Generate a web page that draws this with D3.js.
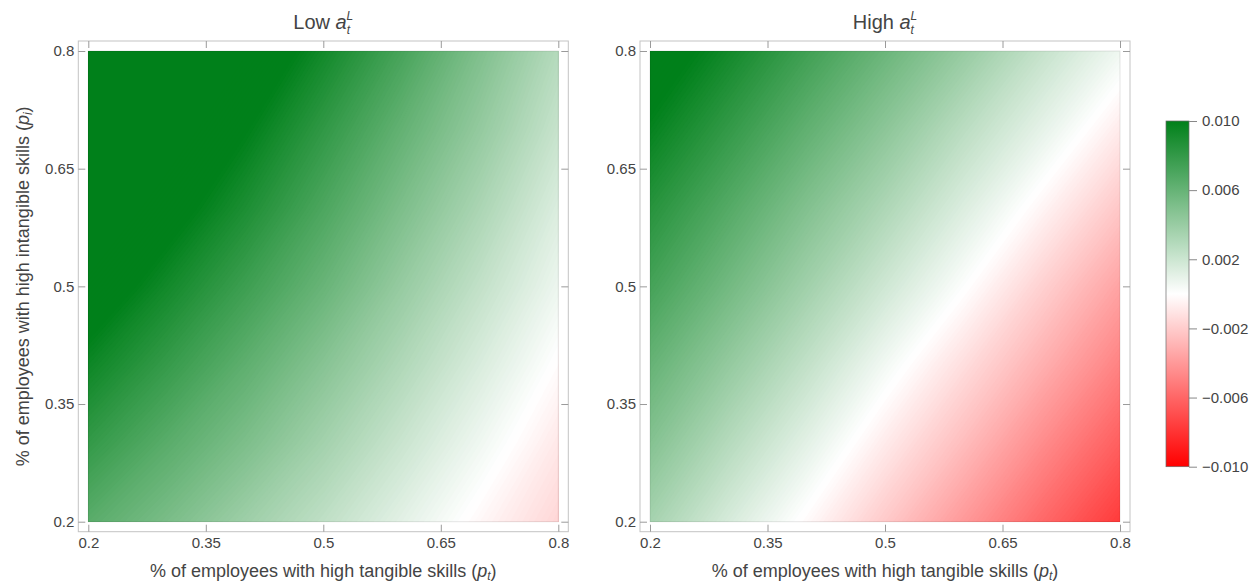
<!DOCTYPE html>
<html>
<head>
<meta charset="utf-8">
<script src="https://cdn.jsdelivr.net/npm/d3@7"></script>
<style>
  html, body { margin: 0; padding: 0; background: #fff; }
  svg { display: block; font-family: "Liberation Sans", Arial, sans-serif; }
</style>
</head>
<body>
<svg id="chart" width="1251" height="584"></svg>
<script>
// Sample positions of the surface: p_t along x, p_i along y
const ptGrid = [0.2, 0.3, 0.4, 0.5, 0.6, 0.7, 0.8];
const piGrid = [0.2, 0.3, 0.4, 0.5, 0.6, 0.7, 0.8];

// Effect values, one row per p_i level (0.2 at the bottom up to 0.8), columns follow ptGrid
const lowValues = [
  [0.0065, 0.0052, 0.0038, 0.0025, 0.0011, -0.0003, -0.0016],
  [0.0080, 0.0065, 0.0051, 0.0036, 0.0021,  0.0006, -0.0009],
  [0.0095, 0.0079, 0.0063, 0.0047, 0.0031,  0.0015, -0.0001],
  [0.0111, 0.0093, 0.0076, 0.0059, 0.0041,  0.0024,  0.0007],
  [0.0126, 0.0107, 0.0089, 0.0070, 0.0051,  0.0033,  0.0014],
  [0.0141, 0.0121, 0.0101, 0.0081, 0.0061,  0.0042,  0.0022],
  [0.0156, 0.0135, 0.0114, 0.0093, 0.0072,  0.0050,  0.0029]
];
const highValues = [
  [0.0035, 0.0016, -0.0002, -0.0021, -0.0040, -0.0059, -0.0077],
  [0.0048, 0.0029,  0.0011, -0.0008, -0.0026, -0.0045, -0.0063],
  [0.0060, 0.0042,  0.0024,  0.0005, -0.0013, -0.0031, -0.0049],
  [0.0073, 0.0055,  0.0037,  0.0019,  0.0001, -0.0018, -0.0036],
  [0.0085, 0.0067,  0.0049,  0.0032,  0.0014, -0.0004, -0.0022],
  [0.0098, 0.0080,  0.0062,  0.0045,  0.0027,  0.0010, -0.0008],
  [0.0110, 0.0093,  0.0075,  0.0058,  0.0041,  0.0023,  0.0006]
];

const panelNames = ["Low", "High"];
const axisTicks = [0.2, 0.35, 0.5, 0.65, 0.8];
const axisTickLabels = ["0.2", "0.35", "0.5", "0.65", "0.8"];
const colorTicks = [-0.01, -0.006, -0.002, 0.002, 0.006, 0.01];
const colorTickLabels = ["\u22120.010", "\u22120.006", "\u22120.002", "0.002", "0.006", "0.010"];

// ---- layout ----
const svg = d3.select("#chart");
const textColor = "#444";
const panelLeft = [88.3, 650];
const panelWidth = 470;
const plotTop = 51, plotBottom = 521.7;
const pad = 10;            // gap between the data area and the frame
const tickLen = 7;

const color = d3.scaleLinear()
  .domain([-0.01, 0, 0.01])
  .range(["#ff0000", "#ffffff", "#00801a"])
  .clamp(true);

const bandStep = 0.0001;
const thresholds = d3.range(-0.0112, 0.0114, bandStep);

const defs = svg.append("defs");

function styleAxis(g, fontSize) {
  g.select(".domain").remove();
  g.selectAll(".tick line").attr("stroke", "#9a9a9a");
  g.selectAll(".tick text").attr("fill", textColor).attr("font-size", fontSize)
    .attr("font-family", "Liberation Sans, Arial, sans-serif");
}

[lowValues, highValues].forEach((values, k) => {
  const x0 = panelLeft[k], x1 = x0 + panelWidth;
  const x = d3.scaleLinear().domain([0.2, 0.8]).range([x0, x1]);
  const y = d3.scaleLinear().domain([0.2, 0.8]).range([plotBottom, plotTop]);
  const g = svg.append("g");

  // clip the surface to the data rectangle
  const clipId = "clip" + k;
  defs.append("clipPath").attr("id", clipId)
    .append("rect").attr("x", x0).attr("y", plotTop)
    .attr("width", x1 - x0).attr("height", plotBottom - plotTop);

  // filled iso-bands of the surface
  const n = ptGrid.length, m = piGrid.length;
  const dxs = ptGrid[1] - ptGrid[0], dys = piGrid[1] - piGrid[0];
  const proj = d3.geoTransform({
    point(px, py) {
      this.stream.point(x(ptGrid[0] + (px - 0.5) * dxs), y(piGrid[0] + (py - 0.5) * dys));
    }
  });
  const path = d3.geoPath(proj);
  const bands = d3.contours().size([n, m]).thresholds(thresholds)(values.flat());
  g.append("g").attr("clip-path", `url(#${clipId})`)
    .selectAll("path").data(bands).join("path")
    .attr("d", path)
    .attr("fill", d => color(d.value + bandStep / 2));

  // faint edge of the density image
  g.append("rect").attr("x", x0).attr("y", plotTop)
    .attr("width", x1 - x0).attr("height", plotBottom - plotTop)
    .attr("fill", "none").attr("stroke", "rgba(0,0,0,0.10)").attr("stroke-width", 1);

  // frame
  const fx0 = x0 - pad, fx1 = x1 + pad, fy0 = plotTop - pad, fy1 = plotBottom + pad;
  g.append("rect").attr("x", fx0).attr("y", fy0)
    .attr("width", fx1 - fx0).attr("height", fy1 - fy0)
    .attr("fill", "none").attr("stroke", "#c4c4c4").attr("stroke-width", 1);

  const fmt = (d, i) => axisTickLabels[i];
  g.append("g").attr("transform", `translate(0,${fy1})`)
    .call(d3.axisBottom(x).tickValues(axisTicks).tickFormat(fmt)
      .tickSize(-tickLen).tickSizeOuter(0).tickPadding(6))
    .call(a => styleAxis(a, 15));
  g.append("g").attr("transform", `translate(0,${fy0})`)
    .call(d3.axisTop(x).tickValues(axisTicks).tickFormat("")
      .tickSize(-tickLen).tickSizeOuter(0))
    .call(a => styleAxis(a, 15));
  g.append("g").attr("transform", `translate(${fx0},0)`)
    .call(d3.axisLeft(y).tickValues(axisTicks).tickFormat(fmt)
      .tickSize(-tickLen).tickSizeOuter(0).tickPadding(4))
    .call(a => styleAxis(a, 15));
  g.append("g").attr("transform", `translate(${fx1},0)`)
    .call(d3.axisRight(y).tickValues(axisTicks).tickFormat("")
      .tickSize(-tickLen).tickSizeOuter(0))
    .call(a => styleAxis(a, 15));

  // panel title: "<name> a" with stacked sub/superscript t and L
  const cx = (x0 + x1) / 2;
  const title = g.append("text").attr("x", cx).attr("y", 29)
    .attr("text-anchor", "middle").attr("font-size", 20).attr("fill", textColor);
  title.append("tspan").text(panelNames[k] + " ");
  title.append("tspan").attr("font-style", "italic").text("a");
  title.append("tspan").attr("font-style", "italic").attr("font-size", 12).attr("dy", 5).text("t");
  title.append("tspan").attr("font-style", "italic").attr("font-size", 12)
    .attr("dx", -3.4).attr("dy", -14.5).text("L");

  // x axis title
  const xt = g.append("text").attr("x", cx).attr("y", 577)
    .attr("text-anchor", "middle").attr("font-size", 18).attr("fill", textColor);
  xt.append("tspan").text("% of employees with high tangible skills (");
  xt.append("tspan").attr("font-style", "italic").text("p");
  xt.append("tspan").attr("font-style", "italic").attr("font-size", 12).attr("dy", 3).text("t");
  xt.append("tspan").attr("dy", -3).text(")");

  // y axis title on the first panel only
  if (k === 0) {
    const yt = g.append("text")
      .attr("transform", `translate(29,${(plotTop + plotBottom) / 2}) rotate(-90)`)
      .attr("text-anchor", "middle").attr("font-size", 18).attr("fill", textColor);
    yt.append("tspan").text("% of employees with high intangible skills (");
    yt.append("tspan").attr("font-style", "italic").text("p");
    yt.append("tspan").attr("font-style", "italic").attr("font-size", 12).attr("dy", 3).text("i");
    yt.append("tspan").attr("dy", -3).text(")");
  }
});

// ---- colour legend ----
const cbX = 1166, cbW = 23, cbTop = 121, cbBottom = 466.7;
const cScale = d3.scaleLinear().domain([-0.01, 0.01]).range([cbBottom, cbTop]);
const grad = defs.append("linearGradient").attr("id", "cbGrad")
  .attr("x1", 0).attr("y1", 1).attr("x2", 0).attr("y2", 0);
d3.range(-0.01, 0.01001, 0.001).forEach(v => {
  grad.append("stop").attr("offset", (v + 0.01) / 0.02).attr("stop-color", color(v));
});
svg.append("rect").attr("x", cbX).attr("y", cbTop)
  .attr("width", cbW).attr("height", cbBottom - cbTop)
  .attr("fill", "url(#cbGrad)").attr("stroke", "#6a6a6a").attr("stroke-width", 0.7);
svg.append("g").attr("transform", `translate(${cbX + cbW},0)`)
  .call(d3.axisRight(cScale).tickValues(colorTicks)
    .tickFormat((d, i) => colorTickLabels[i]).tickSize(8).tickSizeOuter(0).tickPadding(5))
  .call(a => styleAxis(a, 15))
  .call(a => a.selectAll(".tick line").attr("stroke", "#888"));
</script>
</body>
</html>
